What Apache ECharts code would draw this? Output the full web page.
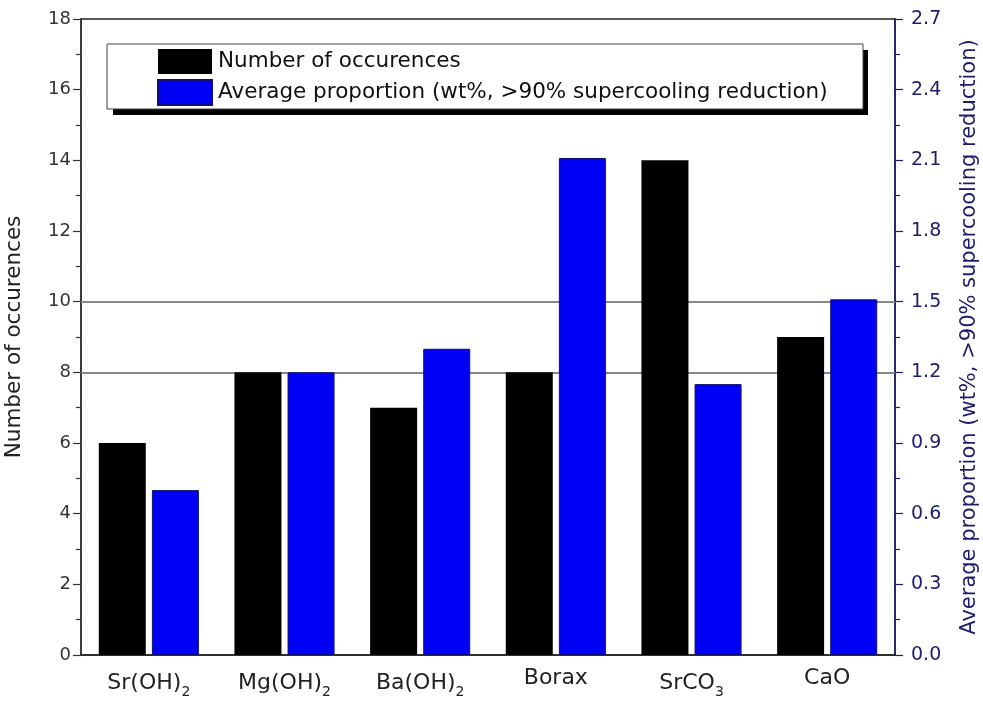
<!DOCTYPE html>
<html>
<head>
<meta charset="utf-8">
<script src="https://cdn.jsdelivr.net/npm/echarts@6/dist/echarts.min.js"></script>
<style>html,body{margin:0;padding:0;background:#fff}#c{width:983px;height:704px}</style>
</head>
<body>
<div id="c"></div>
<script>
// categories: "_" marks the start of a subscript
var categories = ['Sr(OH)_2', 'Mg(OH)_2', 'Ba(OH)_2', 'Borax', 'SrCO_3', 'CaO'];
var occurrences = [6, 8, 7, 8, 14, 9];
var avgProportion = [0.70, 1.20, 1.30, 2.11, 1.15, 1.51];
var refLines = [10, 8];
var seriesNames = ['Number of occurences', 'Average proportion (wt%, >90% supercooling reduction)'];
var leftAxisName = 'Number of occurences';
var rightAxisName = 'Average proportion (wt%, >90% supercooling reduction)';

var FONT = 'DejaVu Sans, sans-serif';
var NAVY = '#1c1c6e';

var chart = echarts.init(document.getElementById('c'), null, {renderer: 'canvas'});
chart.setOption({
  backgroundColor: '#fff',
  animation: false,
  textStyle: {fontFamily: FONT},
  grid: {left: 81, right: 88, top: 19, bottom: 49, outerBoundsMode: 'none', containLabel: false,
         show: true, borderColor: '#222', borderWidth: 1.5, backgroundColor: 'transparent'},
  graphic: [
    {type: 'rect', z: 20, silent: true, shape: {x: 113, y: 50, width: 755, height: 65}, style: {fill: '#000'}},
    {type: 'rect', z: 21, silent: true, shape: {x: 107, y: 44, width: 756, height: 65}, style: {fill: '#fff', stroke: '#444', lineWidth: 1}}
  ],
  legend: {
    orient: 'vertical',
    left: 157, top: 49,
    z: 30,
    itemWidth: 54, itemHeight: 25, itemGap: 5,
    padding: 0,
    icon: 'rect',
    textStyle: {fontSize: 21.5, color: '#111', fontFamily: FONT, padding: [0, 0, 0, 1]},
    data: seriesNames
  },
  xAxis: {
    type: 'category',
    data: categories,
    axisLine: {lineStyle: {color: '#222', width: 1.5}},
    axisTick: {show: false},
    axisLabel: {
      interval: 0,
      hideOverlap: false,
      margin: 12,
      formatter: function (v) {
        var p = v.split('_');
        return p.length > 1 ? '{n|' + p[0] + '}{s|' + p[1] + '}' : '{n|' + p[0] + '}';
      },
      rich: {
        n: {fontSize: 22, color: '#222', fontFamily: FONT},
        s: {fontSize: 14, color: '#222', fontFamily: FONT, padding: [18, 0, 0, 0]}
      }
    }
  },
  yAxis: [{
    type: 'value', min: 0, max: 18, interval: 2,
    name: leftAxisName, nameLocation: 'middle', nameGap: 56, nameRotate: 90,
    nameTextStyle: {fontSize: 21.5, color: '#222', fontFamily: FONT},
    axisLine: {show: true, lineStyle: {color: '#333', width: 1.5}},
    axisTick: {show: true, inside: false, length: 8, lineStyle: {color: '#333', width: 1.2}},
    minorTick: {show: true, splitNumber: 2, length: 5, lineStyle: {color: '#333', width: 1.2}},
    axisLabel: {fontSize: 18, color: '#333', margin: 10, fontFamily: FONT},
    splitLine: {show: false}
  }, {
    type: 'value', min: 0, max: 2.7, interval: 0.3, position: 'right',
    name: rightAxisName, nameLocation: 'middle', nameGap: 64, nameRotate: 90,
    nameTextStyle: {fontSize: 21, color: NAVY, fontFamily: FONT},
    axisLine: {show: true, lineStyle: {color: NAVY, width: 1.5}},
    axisTick: {show: true, inside: false, length: 8, lineStyle: {color: NAVY, width: 1.2}},
    minorTick: {show: true, splitNumber: 2, length: 5, lineStyle: {color: NAVY, width: 1.2}},
    axisLabel: {fontSize: 19, color: NAVY, margin: 16, fontFamily: FONT, formatter: function (v) { return v.toFixed(1); }},
    splitLine: {show: false}
  }],
  series: [{
    name: seriesNames[0], type: 'bar', yAxisIndex: 0,
    data: occurrences, barWidth: 47, barGap: '13%',
    itemStyle: {color: '#000', borderColor: '#000', borderWidth: 0},
    markLine: {
      silent: true, symbol: 'none', label: {show: false},
      lineStyle: {color: '#888', width: 2, type: 'solid'},
      data: refLines.map(function (v) { return {yAxis: v}; }),
      z: 1
    },
    z: 3
  }, {
    name: seriesNames[1], type: 'bar', yAxisIndex: 1,
    data: avgProportion, barWidth: 47,
    itemStyle: {color: '#0000f5', borderColor: '#101070', borderWidth: 1},
    z: 3
  }]
});
</script>
</body>
</html>
